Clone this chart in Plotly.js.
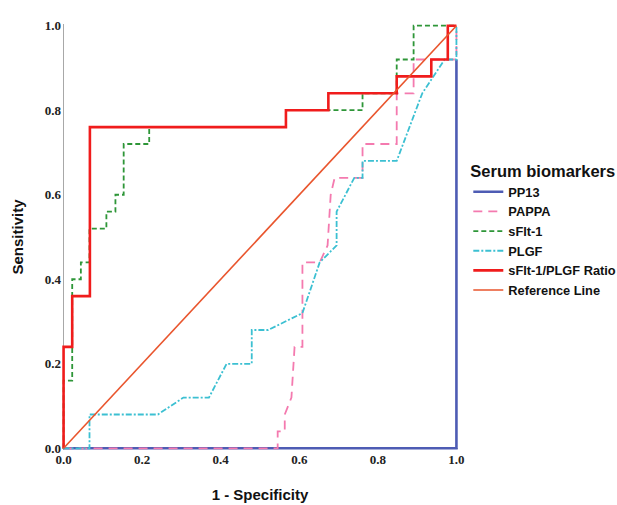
<!DOCTYPE html>
<html>
<head>
<meta charset="utf-8">
<script src="https://cdn.plot.ly/plotly-3.0.1.min.js"></script>
<style>html,body{margin:0;padding:0;background:#fff;}#chart{width:617px;height:505px;}</style>
</head>
<body>
<div id="chart"></div>
<script>
// Series names
const seriesNames = ["PP13", "PAPPA", "sFlt-1", "PLGF", "sFlt-1/PLGF Ratio", "Reference Line"];

// PP13
const pp13X = [0, 1, 1];
const pp13Y = [0, 0, 0.92];

// PAPPA
const pappaX = [0, 0.545, 0.545, 0.563, 0.563, 0.58, 0.588, 0.608, 0.608, 0.652, 0.672, 0.68, 0.69, 0.761, 0.761, 0.848, 0.848, 0.891, 0.891, 1, 1];
const pappaY = [0, 0, 0.04, 0.04, 0.08, 0.12, 0.24, 0.24, 0.44, 0.44, 0.48, 0.60, 0.64, 0.64, 0.72, 0.72, 0.84, 0.84, 0.92, 0.92, 1];

// sFlt-1
const sfltX = [0, 0, 0.022, 0.022, 0.044, 0.044, 0.066, 0.066, 0.109, 0.109, 0.132, 0.132, 0.153, 0.153, 0.218, 0.218, 0.566, 0.566, 0.761, 0.761, 0.848, 0.848, 0.891, 0.891, 1];
const sfltY = [0, 0.16, 0.16, 0.40, 0.40, 0.44, 0.44, 0.52, 0.52, 0.56, 0.56, 0.60, 0.60, 0.72, 0.72, 0.76, 0.76, 0.80, 0.80, 0.84, 0.84, 0.92, 0.92, 1, 1];

// PLGF
const plgfX = [0, 0.066, 0.066, 0.24, 0.305, 0.37, 0.415, 0.479, 0.479, 0.521, 0.608, 0.652, 0.695, 0.695, 0.74, 0.761, 0.761, 0.848, 0.913, 0.97, 1, 1];
const plgfY = [0, 0, 0.08, 0.08, 0.12, 0.12, 0.20, 0.20, 0.28, 0.28, 0.32, 0.44, 0.48, 0.56, 0.64, 0.64, 0.68, 0.68, 0.84, 0.92, 0.92, 1];

// sFlt-1/PLGF Ratio
const ratioX = [0, 0, 0.022, 0.022, 0.067, 0.067, 0.566, 0.566, 0.674, 0.674, 0.848, 0.848, 0.936, 0.936, 0.978, 0.978, 1];
const ratioY = [0, 0.24, 0.24, 0.36, 0.36, 0.76, 0.76, 0.80, 0.80, 0.84, 0.84, 0.88, 0.88, 0.92, 0.92, 1, 1];

// Reference line
const refX = [0, 1];
const refY = [0, 1];

// Tick labels
const tickVals = [0, 0.2, 0.4, 0.6, 0.8, 1.0];
const tickText = ["0.0", "0.2", "0.4", "0.6", "0.8", "1.0"];

const traces = [
  {x: pp13X, y: pp13Y, name: seriesNames[0], mode: "lines", line: {color: "#4e5cb4", width: 2.6}},
  {x: pappaX, y: pappaY, name: seriesNames[1], mode: "lines", line: {color: "#f47aaf", width: 1.8, dash: "9px,6px"}},
  {x: sfltX, y: sfltY, name: seriesNames[2], mode: "lines", line: {color: "#2e9638", width: 1.8, dash: "5px,3px"}},
  {x: plgfX, y: plgfY, name: seriesNames[3], mode: "lines", line: {color: "#3cc0d2", width: 1.8, dash: "6px,2px,2px,2px"}},
  {x: ratioX, y: ratioY, name: seriesNames[4], mode: "lines", line: {color: "#f01c1c", width: 2.6}},
  {x: refX, y: refY, name: seriesNames[5], mode: "lines", line: {color: "#e9552d", width: 1.6}}
];

const tickFont = {family: "Liberation Serif, Times New Roman, serif", size: 13, color: "#222", weight: "bold"};
const titleFont = {family: "Liberation Sans, Arial, sans-serif", size: 15, color: "#111", weight: "bold"};

const layout = {
  width: 617,
  height: 505,
  margin: {l: 62, r: 159, t: 24, b: 55},
  paper_bgcolor: "#fff",
  plot_bgcolor: "#fff",
  showlegend: true,
  xaxis: {
    range: [-0.004, 1.004],
    tickvals: tickVals,
    ticktext: tickText,
    tickfont: tickFont,
    ticks: "",
    showgrid: false,
    showline: false,
    zeroline: true,
    zerolinecolor: "#a8a8a8",
    zerolinewidth: 1.5,
    automargin: false,
    title: {text: "1 - Specificity", font: titleFont, standoff: 23}
  },
  yaxis: {
    range: [-0.004, 1.004],
    tickvals: tickVals,
    ticktext: tickText,
    tickfont: tickFont,
    ticks: "",
    showgrid: false,
    showline: false,
    zeroline: true,
    zerolinecolor: "#a8a8a8",
    zerolinewidth: 1.5,
    automargin: false,
    title: {text: "Sensitivity", font: titleFont, standoff: 17}
  },
  legend: {
    xref: "container",
    yref: "container",
    x: 0.759,
    y: 0.692,
    xanchor: "left",
    yanchor: "top",
    bgcolor: "rgba(0,0,0,0)",
    itemwidth: 30,
    tracegroupgap: 0,
    font: {family: "Liberation Sans, Arial, sans-serif", size: 12.8, color: "#111", weight: "bold"},
    title: {text: "Serum biomarkers", font: {family: "Liberation Sans, Arial, sans-serif", size: 16.5, color: "#111", weight: "bold"}}
  }
};

Plotly.newPlot("chart", traces, layout, {staticPlot: true, displayModeBar: false});
</script>
</body>
</html>
